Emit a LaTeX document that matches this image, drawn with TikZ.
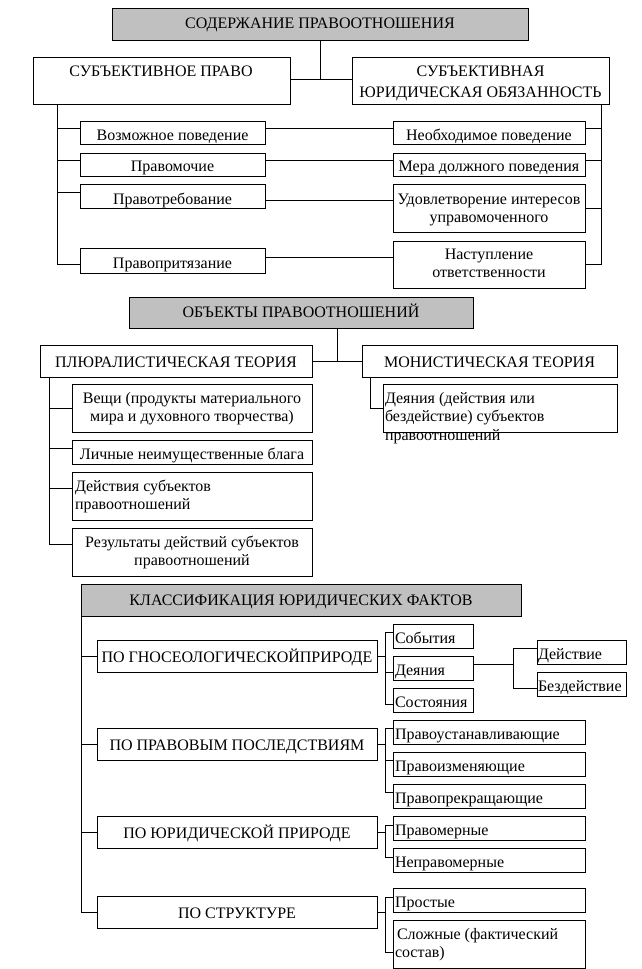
\documentclass[tikz,border=0pt]{standalone}
\usepackage{fontspec}
\setmainfont{Liberation Serif}
\definecolor{hdrgray}{HTML}{C0C0C0}
\tikzset{
  bx/.style={draw, line width=0.9pt, inner sep=0pt, outer sep=0pt, anchor=north west},
  gr/.style={bx, fill=hdrgray},
  tx/.style={inner sep=0pt, outer sep=0pt, anchor=base},
  txl/.style={tx, anchor=base west},
  ln/.style={line width=0.9pt},
}
\begin{document}
\begin{tikzpicture}[x=1pt, y=-1pt, font=\fontsize{16}{18}\selectfont]
\useasboundingbox (0,0) rectangle (641,969);
% ---------- Section 1 ----------
\node[gr, minimum width=416pt, minimum height=32pt] (top) at (112,8) {};
\node[tx] (ttop) at (320,28) {СОДЕРЖАНИЕ ПРАВООТНОШЕНИЯ};
\node[bx, minimum width=257pt, minimum height=47pt] (sp) at (33,57) {};
\node[tx] (tsp) at (161,76) {СУБЪЕКТИВНОЕ ПРАВО};
\node[bx, minimum width=257pt, minimum height=47pt] (so) at (352,57) {};
\node[tx] (tso1) at (480.5,76) {СУБЪЕКТИВНАЯ};
\node[tx] (tso2) at (480.5,97) {ЮРИДИЧЕСКАЯ ОБЯЗАННОСТЬ};
\draw[ln] (top.south) -- (top.south |- 0,79);
\draw[ln] (sp.east |- 0,79) -- (so.west |- 0,79);

\node[bx, minimum width=185pt, minimum height=23pt] (a1) at (80,121) {};
\node[tx] at (172.5,140) {Возможное поведение};
\node[bx, minimum width=185pt, minimum height=23pt] (a2) at (80,153) {};
\node[tx] at (172.5,171) {Правомочие};
\node[bx, minimum width=185pt, minimum height=24pt] (a3) at (80,184) {};
\node[tx] at (172.5,204) {Правотребование};
\node[bx, minimum width=185pt, minimum height=25pt] (a4) at (80,248) {};
\node[tx] at (172.5,268) {Правопритязание};

\node[bx, minimum width=192pt, minimum height=23pt] (b1) at (393,121) {};
\node[tx] at (489,140) {Необходимое поведение};
\node[bx, minimum width=192pt, minimum height=23pt] (b2) at (393,153) {};
\node[tx] at (489,171) {Мера должного поведения};
\node[bx, minimum width=192pt, minimum height=48pt] (b3) at (393,184) {};
\node[tx] at (489,204) {Удовлетворение интересов};
\node[tx] at (489,222) {управомоченного};
\node[bx, minimum width=192pt, minimum height=47pt] (b4) at (393,241) {};
\node[tx] at (489,259) {Наступление};
\node[tx] at (489,277) {ответственности};

% left spine
\draw[ln] (sp.south -| 57,0) -- (57,264) -- (a4.west |- 0,264);
\draw[ln] (57,128) -- (a1.west |- 0,128);
\draw[ln] (57,160) -- (a2.west |- 0,160);
\draw[ln] (57,192) -- (a3.west |- 0,192);
% right spine
\draw[ln] (so.south -| 601,0) -- (601,264) -- (b4.east |- 0,264);
\draw[ln] (601,128) -- (b1.east |- 0,128);
\draw[ln] (601,160) -- (b2.east |- 0,160);
\draw[ln] (601,208) -- (b3.east |- 0,208);
% middle links
\draw[ln] (a1.east |- 0,128) -- (b1.west |- 0,128);
\draw[ln] (a2.east |- 0,160) -- (b2.west |- 0,160);
\draw[ln] (a3.east |- 0,200) -- (b3.west |- 0,200);
\draw[ln] (a4.east |- 0,257) -- (b4.west |- 0,257);

% ---------- Section 2 ----------
\node[gr, minimum width=344pt, minimum height=31pt] (ob) at (129,297) {};
\node[tx] at (301,317) {ОБЪЕКТЫ ПРАВООТНОШЕНИЙ};
\node[bx, minimum width=272pt, minimum height=32pt] (pl) at (40,345) {};
\node[tx] at (176,367) {ПЛЮРАЛИСТИЧЕСКАЯ ТЕОРИЯ};
\node[bx, minimum width=255pt, minimum height=32pt] (mo) at (362,345) {};
\node[tx] at (489.5,367) {МОНИСТИЧЕСКАЯ ТЕОРИЯ};
\coordinate (j2) at (337,361);
\draw[ln] (ob.south -| j2) -- (j2);
\draw[ln] (pl.east |- j2) -- (mo.west |- j2);

\node[bx, minimum width=240pt, minimum height=48pt] (c1) at (72,384) {};
\node[tx] at (192,403) {Вещи (продукты материального};
\node[tx] at (192,421) {мира и духовного творчества)};
\node[bx, minimum width=240pt, minimum height=24pt] (c2) at (72,440) {};
\node[tx] at (192,459) {Личные неимущественные блага};
\node[bx, minimum width=240pt, minimum height=48pt] (c3) at (72,472) {};
\node[txl] at (75,491) {Действия субъектов};
\node[txl] at (75,509) {правоотношений};
\node[bx, minimum width=240pt, minimum height=48pt] (c4) at (72,528) {};
\node[tx] at (192,547) {Результаты действий субъектов};
\node[tx] at (192,565) {правоотношений};
\draw[ln] (pl.south -| 49,0) -- (49,544) -- (c4.west |- 0,544);
\draw[ln] (49,408) -- (c1.west |- 0,408);
\draw[ln] (49,448) -- (c2.west |- 0,448);
\draw[ln] (49,488) -- (c3.west |- 0,488);

\node[bx, minimum width=234pt, minimum height=48pt] (d1) at (383,384) {};
\node[txl] at (385,403) {Деяния (действия или};
\node[txl] at (385,421) {бездействие) субъектов};
\node[txl] at (385,440) {правоотношений};
\draw[ln] (mo.south -| 370,0) -- (370,408) -- (d1.west |- 0,408);

% ---------- Section 3 ----------
\node[gr, minimum width=440pt, minimum height=32pt] (kl) at (81,584) {};
\node[tx] at (301,605) {КЛАССИФИКАЦИЯ ЮРИДИЧЕСКИХ ФАКТОВ};
\node[bx, minimum width=280pt, minimum height=32pt] (g1) at (97,640) {};
\node[tx] at (237,662) {ПО ГНОСЕОЛОГИЧЕСКОЙПРИРОДЕ};
\node[bx, minimum width=280pt, minimum height=32pt] (g2) at (97,728) {};
\node[tx] at (237,750) {ПО ПРАВОВЫМ ПОСЛЕДСТВИЯМ};
\node[bx, minimum width=280pt, minimum height=32pt] (g3) at (97,816) {};
\node[tx] at (237,838) {ПО ЮРИДИЧЕСКОЙ ПРИРОДЕ};
\node[bx, minimum width=280pt, minimum height=32pt] (g4) at (97,896) {};
\node[tx] at (237,918) {ПО СТРУКТУРЕ};
\draw[ln] (kl.south west) -- (81,912) -- (g4.west |- 0,912);
\draw[ln] (81,656) -- (g1.west |- 0,656);
\draw[ln] (81,744) -- (g2.west |- 0,744);
\draw[ln] (81,832) -- (g3.west |- 0,832);

% g1 children
\node[bx, minimum width=80pt, minimum height=24pt] (e1) at (393,624) {};
\node[txl] at (395,643) {События};
\node[bx, minimum width=80pt, minimum height=24pt] (e2) at (393,656) {};
\node[txl] at (395,675) {Деяния};
\node[bx, minimum width=80pt, minimum height=24pt] (e3) at (393,688) {};
\node[txl] at (395,707) {Состояния};
\draw[ln] (g1.east |- 0,656) -- (385,656);
\draw[ln] (e1.west |- 0,632) -- (385,632) -- (385,704) -- (e3.west |- 0,704);
\draw[ln] (385,672) -- (e2.west |- 0,672);

\node[bx, minimum width=89pt, minimum height=24pt] (f1) at (537,640) {};
\node[txl] at (538,659) {Действие};
\node[bx, minimum width=89pt, minimum height=24pt] (f2) at (537,672) {};
\node[txl] at (538,691) {Бездействие};
\draw[ln] (e2.east |- 0,664) -- (513,664);
\draw[ln] (f1.west |- 0,648) -- (513,648) -- (513,688) -- (f2.west |- 0,688);

% g2 children
\node[bx, minimum width=192pt, minimum height=24pt] (h1) at (393,720) {};
\node[txl] at (395,739) {Правоустанавливающие};
\node[bx, minimum width=192pt, minimum height=24pt] (h2) at (393,752) {};
\node[txl] at (395,771) {Правоизменяющие};
\node[bx, minimum width=192pt, minimum height=24pt] (h3) at (393,784) {};
\node[txl] at (395,803) {Правопрекращающие};
\draw[ln] (g2.east |- 0,744) -- (385,744);
\draw[ln] (h1.west |- 0,728) -- (385,728) -- (385,792) -- (h3.west |- 0,792);
\draw[ln] (385,760) -- (h2.west |- 0,760);

% g3 children
\node[bx, minimum width=192pt, minimum height=24pt] (i1) at (393,816) {};
\node[txl] at (395,835) {Правомерные};
\node[bx, minimum width=192pt, minimum height=24pt] (i2) at (393,848) {};
\node[txl] at (395,867) {Неправомерные};
\draw[ln] (g3.east |- 0,832) -- (385,832);
\draw[ln] (i1.west |- 0,825) -- (385,825) -- (385,857) -- (i2.west |- 0,857);

% g4 children
\node[bx, minimum width=192pt, minimum height=24pt] (k1) at (393,888) {};
\node[txl] at (395,907) {Простые};
\node[bx, minimum width=192pt, minimum height=48pt] (k2) at (393,920) {};
\node[txl] at (397,939) {Сложные (фактический};
\node[txl] at (395,957) {состав)};
\draw[ln] (g4.east |- 0,912) -- (385,912);
\draw[ln] (k1.west |- 0,897) -- (385,897) -- (385,952) -- (k2.west |- 0,952);
\end{tikzpicture}
\end{document}
